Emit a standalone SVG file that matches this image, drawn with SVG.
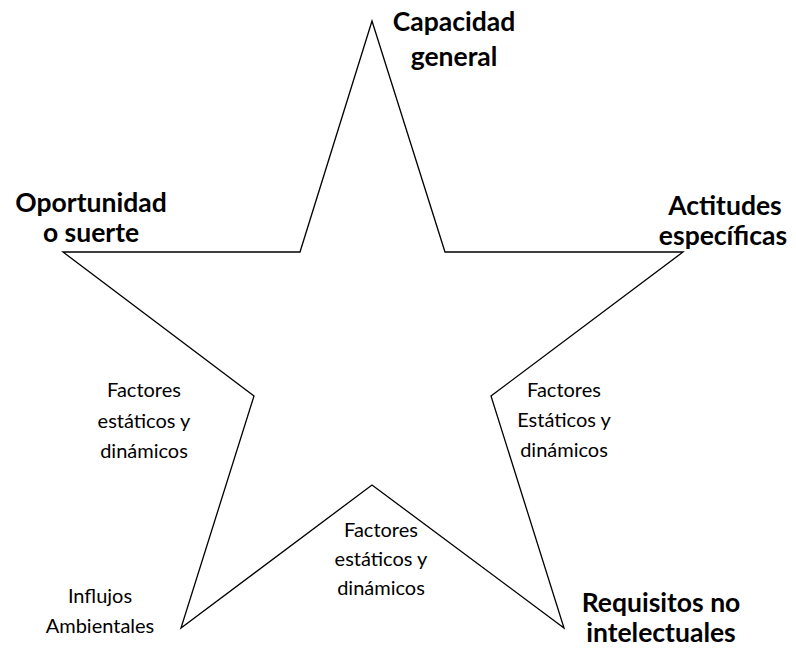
<svg xmlns="http://www.w3.org/2000/svg" width="796" height="650" viewBox="0 0 796 650">
  <style>
    .star { fill: none; stroke: #000; stroke-width: 1.3; stroke-linejoin: miter; }
    .head { font-family: Lato, "Liberation Sans", sans-serif; font-weight: bold; font-size: 26.5px; fill: #000; text-anchor: middle; }
    .note { font-family: Lato, "Liberation Sans", sans-serif; font-size: 20px; fill: #000; text-anchor: middle; }
  </style>
  <rect width="796" height="650" fill="#fff"/>

  <!-- five-pointed star outline -->
  <g id="star">
    <polygon class="star" points="372,21 445,252 683,252 491,396 564,628 372,485 181,628 254,396 63,252 300,252"/>
  </g>

  <!-- point labels -->
  <g id="capacidad-general">
    <text class="head" x="454" y="31">Capacidad</text>
    <text class="head" x="454" y="66">general</text>
  </g>
  <g id="oportunidad">
    <text class="head" x="91" y="212">Oportunidad</text>
    <text class="head" x="91" y="242">o suerte</text>
  </g>
  <g id="actitudes">
    <text class="head" x="725" y="215">Actitudes</text>
    <text class="head" x="723" y="245">específicas</text>
  </g>
  <g id="requisitos">
    <text class="head" x="661" y="612">Requisitos no</text>
    <text class="head" x="661" y="642">intelectuales</text>
  </g>
  <g id="influjos">
    <text class="note" x="100" y="603">Influjos</text>
    <text class="note" x="100" y="633">Ambientales</text>
  </g>

  <!-- inner-side labels -->
  <g id="factores-izq">
    <text class="note" x="144" y="397">Factores</text>
    <text class="note" x="144" y="428">estáticos y</text>
    <text class="note" x="144" y="458">dinámicos</text>
  </g>
  <g id="factores-der">
    <text class="note" x="564" y="397">Factores</text>
    <text class="note" x="564" y="427">Estáticos y</text>
    <text class="note" x="564" y="457">dinámicos</text>
  </g>
  <g id="factores-centro">
    <text class="note" x="381" y="537">Factores</text>
    <text class="note" x="381" y="566">estáticos y</text>
    <text class="note" x="381" y="595">dinámicos</text>
  </g>
</svg>
